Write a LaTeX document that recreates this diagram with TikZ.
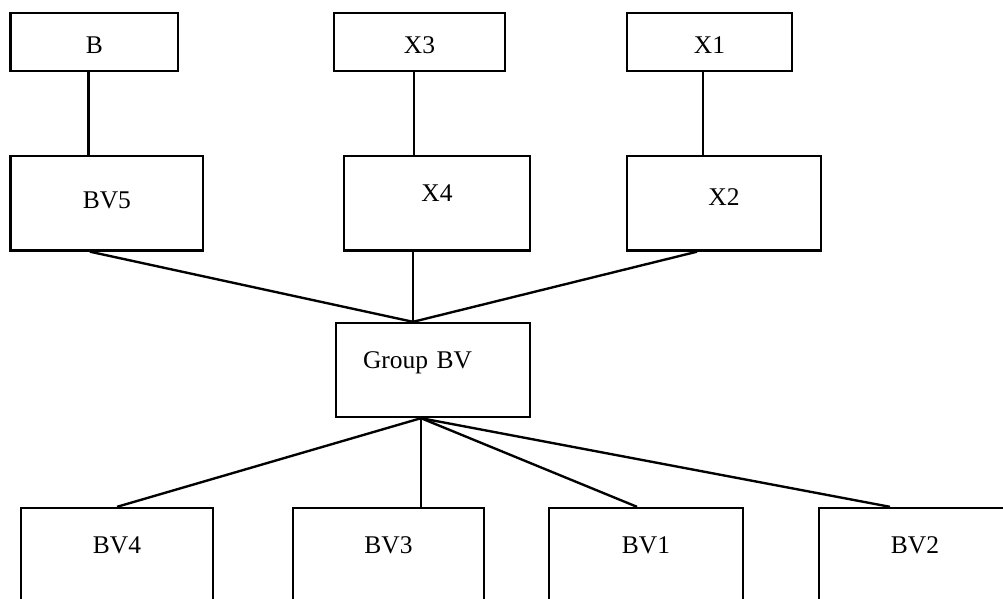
\documentclass[tikz,border=0pt]{standalone}
\usepackage{fontspec}
\setmainfont{Liberation Serif}
\usepackage{tikz}

\begin{document}
\begin{tikzpicture}[
    x=0.02cm,
    y=-0.02cm,
    every node/.style={font=\fontsize{14.5}{17}\selectfont},
    box/.style={draw, line width=1.35pt, inner sep=0pt, align=center},
    topbox/.style={box, text height=0.81cm, text depth=0.344cm},
    midbox/.style={box, text height=1.05cm, text depth=0.84cm},
    lowbox/.style={box, text height=0.91cm, text depth=1.33cm},
    link/.style={line width=1.35pt}
]
\useasboundingbox (0,0) rectangle (1003,598);
\clip (0,0) rectangle (1003,598);

\node[topbox, minimum width=3.35cm] (b) at (94.4, 41.85) {B};
\node[topbox, minimum width=3.42cm] (x3) at (419.5, 41.85) {X3};
\node[topbox, minimum width=3.3cm] (x1) at (709.5, 41.85) {X1};

\node[midbox, minimum width=3.85cm] (bv5) at (106.9, 203.25) {BV5};
\node[midbox, minimum width=3.72cm, text height=0.91cm, text depth=0.98cm] (x4) at (437, 203.25) {X4};
\node[midbox, minimum width=3.88cm, text height=0.99cm, text depth=0.9cm] (x2) at (724, 203.25) {X2};

\node[box, minimum width=3.88cm, text width=2.8cm, align=left, text height=0.91cm, text depth=0.97cm] (gbv) at (433, 370) {Group BV};

\node[lowbox, minimum width=3.84cm] (bv4) at (117, 564) {BV4};
\node[lowbox, minimum width=3.82cm] (bv3) at (388.5, 564) {BV3};
\node[lowbox, minimum width=3.88cm] (bv1) at (646, 564) {BV1};
\node[lowbox, minimum width=3.84cm] (bv2) at (915, 564) {BV2};

\coordinate (gtop) at ([xshift=-0.4cm]gbv.north);
\coordinate (gbot) at ([xshift=-0.24cm]gbv.south);

\foreach \a/\b/\s in {b/bv5/-0.12, x3/x4/-0.11, x1/x2/-0.13} {
  \coordinate (\a drop) at ([xshift=\s cm]\a.south);
  \draw[link] (\a drop) -- (\a drop |- \b.north);
}

\draw[link] ([xshift=-0.34cm]bv5.south) -- (gtop);
\draw[link] (x4.south -| gtop) -- (gtop);
\draw[link] ([xshift=-0.54cm]x2.south) -- (gtop);

\draw[link] (gbot) -- (bv4.north);
\draw[link] (gbot) -- (gbot |- bv3.north);
\draw[link] (gbot) -- ([xshift=-0.18cm]bv1.north);
\draw[link] (gbot) -- ([xshift=-0.5cm]bv2.north);
\end{tikzpicture}
\end{document}
